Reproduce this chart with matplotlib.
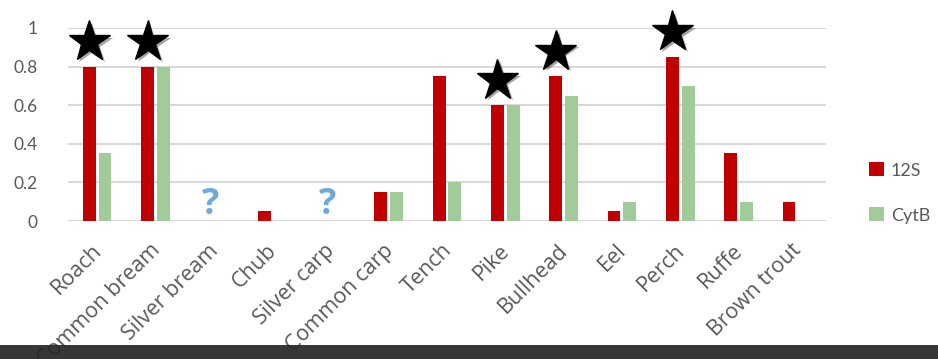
import matplotlib
matplotlib.use("Agg")
import matplotlib.pyplot as plt
import matplotlib.patheffects as pe
from matplotlib.patches import Rectangle
import numpy as np

categories = ["Roach", "Common bream", "Silver bream", "Chub", "Silver carp",
              "Common carp", "Tench", "Pike", "Bullhead", "Eel", "Perch",
              "Ruffe", "Brown trout"]
s12 = [0.8, 0.8, 0, 0.05, 0, 0.15, 0.75, 0.6, 0.75, 0.05, 0.85, 0.35, 0.1]
cytb = [0.35, 0.8, 0, 0, 0, 0.15, 0.2, 0.6, 0.65, 0.1, 0.7, 0.1, 0]
star_cats = ["Roach", "Common bream", "Pike", "Bullhead", "Perch"]
question_cats = ["Silver bream", "Silver carp"]
yticks = [0, 0.2, 0.4, 0.6, 0.8, 1]

RED = "#C00000"
GREEN = "#A1CB98"
GRAY = "#595959"

fig = plt.figure(figsize=(9.38, 3.59), dpi=100)
ax = fig.add_axes([68/938, 1 - 221/359, (826-68)/938, (221-28)/359])

x = np.arange(len(categories))
w = 0.22
gap = 0.05
ax.bar(x - (w + gap)/2, s12, w, color=RED, label="12S", zorder=3)
ax.bar(x + (w + gap)/2, cytb, w, color=GREEN, label="CytB", zorder=3)

for c in star_cats:
    i = categories.index(c)
    top = max(s12[i], cytb[i])
    ax.plot(i - (w + gap)/2, top + 0.13, marker="*", markersize=31, color="black",
            zorder=5, clip_on=False,
            path_effects=[pe.SimplePatchShadow(offset=(2, -2), alpha=0.35), pe.Normal()])

for c in question_cats:
    i = categories.index(c)
    ax.text(i - 0.05, -0.01, "?", ha="center", va="bottom", color="#6FA8DC",
            fontsize=26, fontweight="bold", family="Open Sans", zorder=4)

ax.set_xlim(-0.5, len(categories) - 0.5)
ax.set_ylim(0, 1.0)
ax.set_yticks(yticks)
ax.set_yticklabels(["0", "0.2", "0.4", "0.6", "0.8", "1"], fontsize=12.5,
                   color=GRAY, family="Lato")
ax.set_xticks(x)
ax.set_xticklabels([])
for i, c in enumerate(categories):
    ax.annotate(c, xy=(i, 0), xycoords=("data", "axes fraction"),
                xytext=(-4.3, -13.7), textcoords="offset points",
                rotation=45, ha="right", va="top", rotation_mode="anchor",
                fontsize=15.5, color=GRAY, family="Open Sans", annotation_clip=False)
ax.tick_params(axis="both", length=0)
ax.tick_params(axis="y", pad=22)
ax.grid(axis="y", color="#D9D9D9", linewidth=1.5, zorder=0)
for s in ax.spines.values():
    s.set_visible(False)
ax.set_axisbelow(True)

leg = fig.legend(loc="center left", bbox_to_anchor=(853/938, 1 - 193/359),
                 frameon=False, handlelength=0.8, handleheight=0.8,
                 labelspacing=1.6, handletextpad=0.4,
                 prop={"family": "Lato", "size": 13})
for t in leg.get_texts():
    t.set_color(GRAY)

fig.patches.append(Rectangle((0, 0), 1, 14/359, transform=fig.transFigure,
                             facecolor="#262626", alpha=0.92, zorder=10))

fig.savefig("out.png", dpi=100)
